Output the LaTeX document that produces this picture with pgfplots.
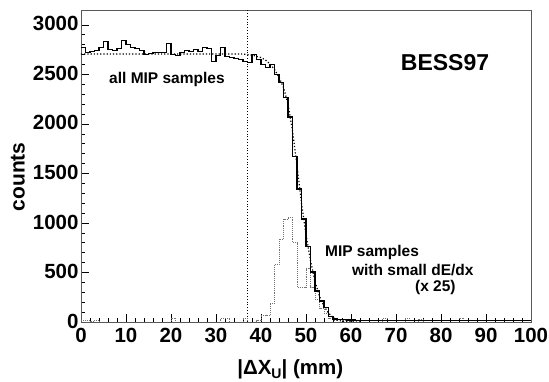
\documentclass[border=0pt]{standalone}
\usepackage{pgfplots}
\pgfplotsset{compat=1.18}
\usepackage{fontspec}
\setmainfont{Liberation Sans}
\begin{document}
\begin{tikzpicture}
\path[use as bounding box] (0,0) rectangle (549pt,382pt);
\begin{axis}[
  at={(81pt,60pt)}, anchor=south west,
  scale only axis, width=450pt, height=312pt,
  xmin=0, xmax=100, ymin=0, ymax=3150,
  xtick={0,10,...,100}, ytick={0,500,...,3000},
  minor x tick num=4, minor y tick num=4,
  tick align=inside, xtick pos=bottom, ytick pos=left,
  major tick length=8pt, minor tick length=4pt,
  tick style={black, line width=0.6pt},
  axis line style={black!65, line width=0.8pt},
  /pgf/number format/assume math mode=true,
  /pgf/number format/set thousands separator={},
  ticklabel style={font=\bfseries\fontsize{20.5}{20.5}\selectfont},
  xticklabel style={yshift=-2.5pt},
  yticklabel style={xshift=1pt, yshift=1pt},
  xlabel={|ΔX\raisebox{-0.35ex}{\fontsize{14}{14}\selectfont U}| (mm)},
  xlabel style={font=\bfseries\fontsize{20.5}{20.5}\selectfont, at={(axis description cs:0.465,0)}, anchor=north, yshift=-34pt},
  ylabel={counts},
  ylabel style={font=\bfseries\fontsize{21}{21}\selectfont, at={(axis description cs:-0.14,0.465)}, anchor=center, rotate=0},
  clip=true,
]
% dotted vertical line
\addplot[black, dotted, line width=0.8pt] coordinates {(37,0) (37,3150)};
% small dE/dx (x25) gray dotted histogram
\addplot[black!55, densely dotted, line width=0.9pt, const plot mark left] coordinates {
(0,20)(1,20)(2,10)(3,20)(4,0)(20,40)(21,0)(31,40)(33,0)(36,40)(37,0)(39,20)(40,70)(41,70)
(42,190)(43,580)(44,835)(45,1040)(46,1060)(47,800)(48,350)(49,350)(50,540)(51,350)(52,230)
(53,140)(54,90)(55,40)(56,20)(57,0)(58,20)(59,0)(67,40)(68,0)(72,40)(73,0)(75,30)(76,0)(84,40)(85,0)(100,0)};
% fit curve
\addplot[black, dotted, line width=1.2pt] coordinates {
(0,2705)(36,2705)(38,2695)(40,2670)(41,2645)(42,2605)(43,2550)(44,2470)(45,2370)(46,2200)
(47,1930)(48,1580)(49,1200)(50,880)(51,620)(52,410)(53,260)(54,160)(55,90)(56,45)(57,20)(58,8)(60,2)(62,0)};
% all MIP histogram
\addplot[black, line width=1.1pt, const plot mark left] coordinates {
(0,2770)(1,2720)(2,2730)(3,2740)(4,2770)(5,2830)(6,2750)(7,2740)(8,2760)(9,2840)
(10,2800)(11,2770)(12,2760)(13,2740)(14,2700)(15,2710)(16,2720)(17,2720)(18,2720)(19,2810)
(20,2700)(21,2690)(22,2720)(23,2740)(24,2730)(25,2750)(26,2730)(27,2770)(28,2760)(29,2630)
(30,2690)(31,2770)(32,2680)(33,2670)(34,2660)(35,2650)(36,2630)(37,2620)(38,2700)(39,2650)
(40,2600)(41,2570)(42,2600)(43,2500)(44,2420)(45,2270)(46,2070)(47,1667)(48,1343)(49,1040)
(50,758)(51,505)(52,313)(53,212)(54,150)(55,60)(56,30)(57,25)(58,22)(59,20)
(60,20)(61,18)(62,18)(63,16)(64,16)(65,15)(66,15)(67,15)(68,14)(69,14)
(70,14)(75,14)(80,14)(85,14)(90,14)(95,14)(100,14)};
\node[font=\bfseries\fontsize{23}{23}\selectfont] at (axis cs:80.9,2621) {BESS97};
\node[font=\bfseries\fontsize{15.5}{15.5}\selectfont] at (axis cs:19.1,2450) {all MIP samples};
\node[font=\bfseries\fontsize{15.5}{15.5}\selectfont, anchor=west, inner sep=0pt] at (axis cs:54.2,706) {MIP samples};
\node[font=\bfseries\fontsize{15.5}{15.5}\selectfont, anchor=west, inner sep=0pt] at (axis cs:60.2,524) {with small dE/dx};
\node[font=\bfseries\fontsize{15.5}{15.5}\selectfont, anchor=west, inner sep=0pt] at (axis cs:74.2,353) {(x 25)};
\end{axis}
\end{tikzpicture}
\end{document}
